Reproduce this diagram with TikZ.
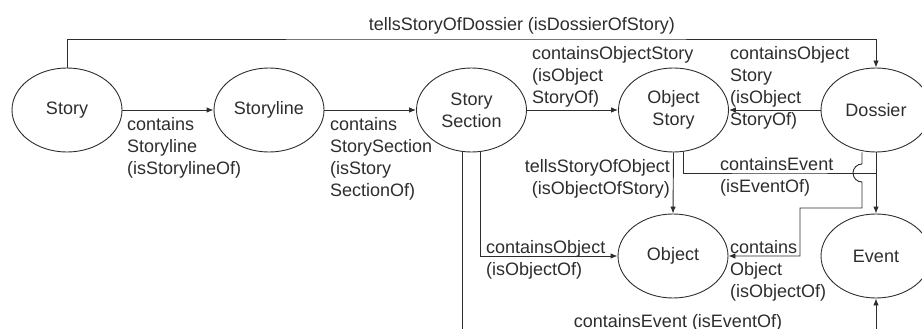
\documentclass[tikz,border=0pt]{standalone}
\usepackage{fontspec}
\setmainfont{Liberation Sans}
\usetikzlibrary{arrows.meta,shapes.geometric}
\definecolor{ink}{RGB}{45,45,45}
\begin{document}
\begin{tikzpicture}[x=1pt,y=-1pt,
  every node/.style={font=\fontsize{18}{22}\selectfont, text=ink},
  ent/.style={ellipse, draw=ink, line width=0.9pt, minimum width=110pt, minimum height=84pt, inner sep=0pt, align=center},
  lbl/.style={inner sep=0pt, align=left, anchor=base west},
  conn/.style={draw=ink, line width=0.9pt},
  arr/.style={conn, -{Latex[length=7pt,width=5.5pt]}}]
\useasboundingbox (0,0) rectangle (922,329);
\clip (0,0) rectangle (922,329);
% entities
\node[ent] (story) at (67,110) {Story};
\node[ent] (storyline) at (269,110) {Storyline};
\node[ent] (sec) at (471.5,110) {Story\\Section};
\node[ent] (objs) at (673.5,110) {Object\\Story};
\node[ent] (dossier) at (876,110) {Dossier};
\node[ent] (obj) at (673,256) {Object};
\node[ent] (event) at (876,256) {Event};
% helper coordinates
\coordinate (toprow) at (500,39);
\coordinate (bottomrow) at (600,342);
\coordinate (evrow) at (780,173);
\coordinate (jumptop) at (862,164);
\coordinate (stepA) at (862,208);
\coordinate (stepB) at (800,208);
% connectors
\draw[arr] (story.north) |- (toprow) -| (dossier.north);
\draw[arr] (story.east) -- (storyline.west);
\draw[arr] (storyline.east) -- (sec.west);
\draw[arr] (sec.east) -- (objs.west);
\draw[arr] (dossier.west) -- (objs.east);
\draw[arr] (objs.south) -- (obj.north);
\draw[arr] (dossier.south) -- (event.north);
\draw[conn] ([xshift=10]objs.south) |- (evrow) -- (event.north |- evrow);
\draw[arr] ([xshift=-14]dossier.south) -- (jumptop) arc[start angle=270, end angle=90, radius=9] -- (stepA) -- (stepB) |- (obj.east);
\draw[arr] ([xshift=8.5]sec.south) |- (obj.west);
\draw[arr] ([xshift=-9.5]sec.south) |- (bottomrow) -| (event.south);
% labels (base = baseline of last line)
\node[inner sep=0pt, anchor=base] (ltop) at (522,31) {tellsStoryOfDossier (isDossierOfStory)};
\node[lbl] (l1) at (127,174) {contains\\Storyline\\(isStorylineOf)};
\node[lbl] (l2) at (330,196) {contains\\StorySection\\(isStory\\SectionOf)};
\node[lbl] (l3) at (532,103) {containsObjectStory\\(isObject\\StoryOf)};
\node[lbl] (l4) at (730,125) {containsObject\\Story\\(isObject\\StoryOf)};
\node[inner sep=0pt, align=right, anchor=base east] (l5) at (670,194) {tellsStoryOfObject\\(isObjectOfStory)};
\node[lbl] (l6) at (720,192) {containsEvent\\(isEventOf)};
\node[lbl] (l7) at (486,275) {containsObject\\(isObjectOf)};
\node[lbl] (l8) at (730,297) {contains\\Object\\(isObjectOf)};
\node[inner sep=0pt, anchor=base] (l9) at (678,327) {containsEvent (isEventOf)};
\end{tikzpicture}
\end{document}
